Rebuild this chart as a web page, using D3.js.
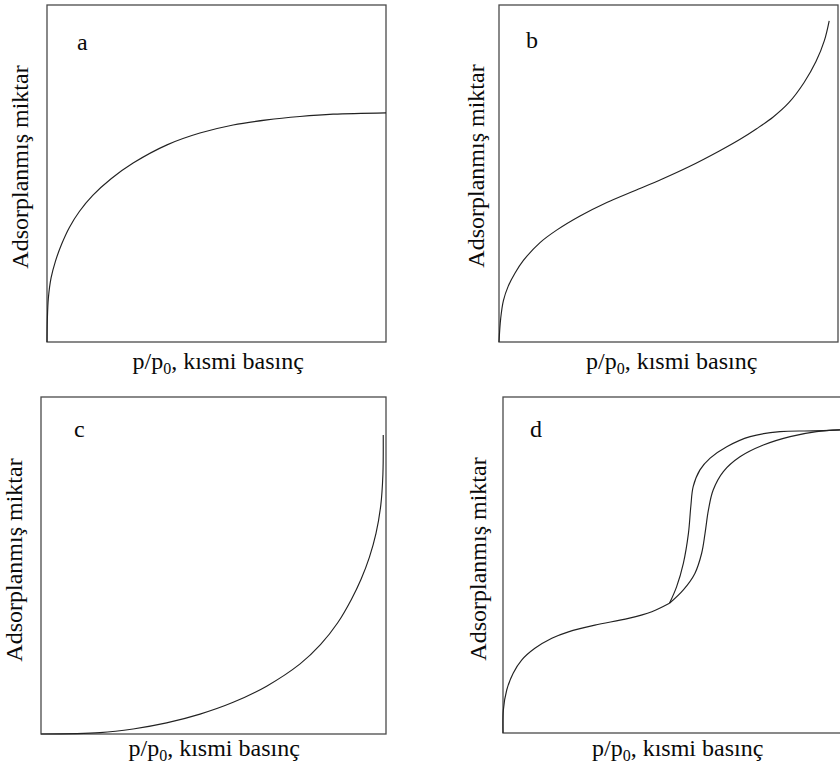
<!DOCTYPE html>
<html>
<head>
<meta charset="utf-8">
<script src="https://cdn.jsdelivr.net/npm/d3@7"></script>
<style>
  html, body { margin: 0; padding: 0; background: #fff; }
  svg { display: block; }
</style>
</head>
<body>
<svg id="chart" width="840" height="772"></svg>
<script>
// ---------------- DATA ----------------
const panelLetters = ["a", "b", "c", "d"];
const xAxisLabel = "p/p";
const xAxisSub = "0";
const xAxisRest = ", kısmi basınç";
const yAxisLabel = "Adsorplanmış miktar";

// isotherm curves, [relative pressure (0-100), adsorbed amount (0-100)]
const isothermA = [[0,0],[0.1,6.5],[0.4,13],[1.2,19],[2.5,24],[4.3,29],[6.6,34],[9.6,38.8],[13.5,43.5],[19.0,48.5],[25.4,53.1],[35.4,58.5],[45.1,62.0],[54.9,64.4],[64.9,65.9],[74.6,66.9],[84.4,67.6],[100,68.0]];
const isothermB = [[0,0],[0.5,7],[1.3,12.3],[2.7,16.5],[4.7,20.4],[7.2,24.2],[12.1,29.5],[17.0,33.2],[23.9,37.4],[31.8,41.4],[40,44.9],[48,48.3],[56,52.0],[65,56.7],[71,60.1],[76,63.3],[80.8,66.7],[85.5,71.0],[90,77.0],[93.5,83.2],[96,89.5],[97.4,95.3]];
const isothermC = [[0,0],[17.1,0.4],[26.7,1.5],[36.4,3.3],[46.1,5.9],[55.7,9.4],[65.4,14.2],[75.1,20.8],[81,26.5],[86,33],[90,40],[92.8,46],[95.2,52.5],[97.1,59.5],[98.5,68],[99.1,77],[99.2,88.7]];
const isothermDCommon = [[0,0],[0.1,6.8],[1.1,12.8],[3.0,17.8],[5.5,21.7],[9.4,25.2],[14.4,28.2],[19.3,30.1],[27.1,32.1],[37.0,34.1],[43.9,36.1],[49.1,38.6]];
const isothermDDesorption = [[49.1,38.6],[51.2,43.5],[53.2,50.5],[54.7,59.4],[55.4,67.4],[56.1,73.3],[58.1,78.3],[61.1,81.8],[66.0,85.2],[72.9,88.2],[81.7,89.7],[91.5,89.9],[99.4,90.2]];
const isothermDAdsorption = [[49.1,38.6],[53.2,42.6],[56.6,47.5],[58.6,53.5],[59.6,59.4],[60.6,66.4],[62.0,72.3],[65.0,77.8],[69.9,82.2],[76.8,85.7],[84.7,88.2],[92.5,89.7],[99.4,90.2]];

const panelCurves = [
  [isothermA],
  [isothermB],
  [isothermC],
  [isothermDCommon, isothermDDesorption, isothermDAdsorption]
];

// ---------------- LAYOUT ----------------
const layout = [
  { box: [47, 5, 386, 342],   letter: [77, 50],   xlab: [132.5, 369], ylab: [28, 167] },
  { box: [499, 5, 838, 342],  letter: [526, 48],  xlab: [586, 369],   ylab: [484, 166] },
  { box: [41, 397, 386, 734], letter: [74, 437],  xlab: [128.5, 756], ylab: [22, 560] },
  { box: [503, 397, 842, 733],letter: [530, 437], xlab: [592, 756],   ylab: [486, 559] }
];

const svg = d3.select("#chart");

panelLetters.forEach((letter, i) => {
  const L = layout[i];
  const [x0, y0, x1, y1] = L.box;
  const x = d3.scaleLinear().domain([0, 100]).range([x0, x1]);
  const y = d3.scaleLinear().domain([0, 100]).range([y1, y0]);
  const g = svg.append("g")
    .attr("font-family", "'Liberation Serif', 'Times New Roman', serif")
    .attr("fill", "#0a0a0a");

  g.append("rect")
    .attr("x", x(0)).attr("y", y(100))
    .attr("width", x(100) - x(0)).attr("height", y(0) - y(100))
    .attr("fill", "none").attr("stroke", "#4a4a4a").attr("stroke-width", 1.3);

  const line = d3.line()
    .x(d => x(d[0])).y(d => y(d[1]))
    .curve(d3.curveCatmullRom.alpha(0.5));

  panelCurves[i].forEach(c => {
    g.append("path").datum(c)
      .attr("d", line)
      .attr("fill", "none").attr("stroke", "#222").attr("stroke-width", 1.15);
  });

  g.append("text")
    .attr("x", L.letter[0]).attr("y", L.letter[1])
    .attr("font-size", 24)
    .text(letter);

  const xt = g.append("text")
    .attr("x", L.xlab[0]).attr("y", L.xlab[1])
    .attr("font-size", 24);
  xt.append("tspan").text(xAxisLabel);
  xt.append("tspan").attr("font-size", 16).attr("dy", 5).text(xAxisSub);
  xt.append("tspan").attr("dy", -5).text(xAxisRest);

  g.append("text")
    .attr("transform", `translate(${L.ylab[0]},${L.ylab[1]}) rotate(-90)`)
    .attr("text-anchor", "middle")
    .attr("font-size", 24)
    .text(yAxisLabel);
});
</script>
</body>
</html>
